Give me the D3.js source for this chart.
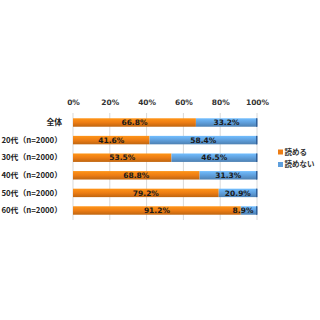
<!DOCTYPE html>
<html>
<head>
<meta charset="utf-8">
<script src="https://cdn.jsdelivr.net/npm/d3@7"></script>
<style>
  body { margin: 0; background: #fff; }
  text { font-family: "Noto Sans CJK JP", "DejaVu Sans", sans-serif; }
</style>
</head>
<body>
<svg id="chart" width="320" height="320"></svg>
<script>
// data
const categories = ["全体", "20代（n=2000）", "30代（n=2000）", "40代（n=2000）", "50代（n=2000）", "60代（n=2000）"];
const canRead = [66.8, 41.6, 53.5, 68.8, 79.2, 91.2];
const cannotRead = [33.2, 58.4, 46.5, 31.3, 20.9, 8.9];
const seriesNames = ["読める", "読めない"];
const tickValues = [0, 20, 40, 60, 80, 100];

const colors = ["#ed7d14", "#5f9fdc"];

const svg = d3.select("#chart");
const margin = { top: 113, left: 73, right: 63, bottom: 100 };
const width = 320 - margin.left - margin.right;
const height = 320 - margin.top - margin.bottom;
const g = svg.append("g").attr("transform", `translate(${margin.left},${margin.top})`);

const x = d3.scaleLinear().domain([0, 100]).range([0, width]);
const y = d3.scaleBand().domain(categories).range([0, height]).paddingInner(0.52).paddingOuter(0.3);

// gradients for a slightly glossy look
const defs = svg.append("defs");
colors.forEach((c, i) => {
  const grad = defs.append("linearGradient")
    .attr("id", "grad" + i).attr("x1", 0).attr("y1", 0).attr("x2", 0).attr("y2", 1);
  grad.append("stop").attr("offset", "0%").attr("stop-color", d3.color(c).brighter(0.5));
  grad.append("stop").attr("offset", "50%").attr("stop-color", c);
  grad.append("stop").attr("offset", "100%").attr("stop-color", d3.color(c).darker(0.6));
});

// gridlines
g.selectAll(".grid")
  .data(tickValues)
  .enter().append("line")
  .attr("class", "grid")
  .attr("x1", d => x(d)).attr("x2", d => x(d))
  .attr("y1", 0).attr("y2", height)
  .attr("stroke", "#d9d9d9").attr("stroke-width", 1);

// top axis labels
const xAxis = d3.axisTop(x).tickValues(tickValues).tickSize(0).tickPadding(8).tickFormat(d => d + "%");
g.append("g")
  .call(xAxis)
  .call(a => {
    a.select(".domain").remove();
    a.selectAll("text")
      .attr("font-size", "7.5px").attr("font-weight", "bold").attr("fill", "#333")
      .style("font-family", "'DejaVu Sans', sans-serif");
  });

// category labels
g.selectAll(".cat")
  .data(categories)
  .enter().append("text")
  .attr("class", "cat")
  .attr("x", -11)
  .attr("y", d => y(d) + y.bandwidth() / 2)
  .attr("dy", "0.35em")
  .attr("text-anchor", "end")
  .attr("font-size", "7.8px")
  .attr("font-weight", "bold")
  .attr("fill", "#222")
  .text(d => d);

// stacked bars
const rows = categories.map((c, i) => ({ cat: c, vals: [canRead[i], cannotRead[i]] }));
rows.forEach(r => {
  let start = 0;
  r.vals.forEach((v, j) => {
    const x0 = x(start);
    const w = x(Math.min(start + v, 100)) - x0;
    g.append("rect")
      .attr("x", x0).attr("y", y(r.cat))
      .attr("width", w).attr("height", y.bandwidth())
      .attr("fill", `url(#grad${j})`);
    g.append("text")
      .attr("x", j === 1 && v < 12 ? x(100) - 14 : x0 + w / 2)
      .attr("y", y(r.cat) + y.bandwidth() / 2)
      .attr("dy", "0.35em")
      .attr("text-anchor", "middle")
      .attr("font-size", "7.5px")
      .attr("font-weight", "bold")
      .attr("fill", "#1a1a1a")
      .style("font-family", "'DejaVu Sans', sans-serif")
      .text(v.toFixed(1) + "%");
    start += v;
  });
  // dark end cap
  g.append("rect")
    .attr("x", x(100) - 1).attr("y", y(r.cat))
    .attr("width", 1.5).attr("height", y.bandwidth())
    .attr("fill", "#2f5f9a");
});

// legend
const legend = svg.append("g").attr("transform", "translate(278,152)");
seriesNames.forEach((s, i) => {
  const lg = legend.append("g").attr("transform", `translate(0,${i * 12.5})`);
  lg.append("rect").attr("width", 5).attr("height", 5).attr("y", -2.5).attr("fill", colors[i]);
  lg.append("text").attr("x", 6.5).attr("dy", "0.35em")
    .attr("font-size", "7.5px").attr("font-weight", "bold").attr("fill", "#333").text(s);
});
</script>
</body>
</html>
